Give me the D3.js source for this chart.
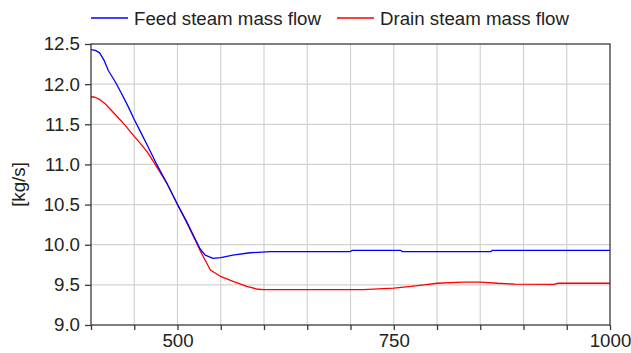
<!DOCTYPE html>
<html>
<head>
<meta charset="utf-8">
<script src="https://cdn.jsdelivr.net/npm/d3@7"></script>
<style>
  html, body { margin: 0; padding: 0; background: #fff; }
  svg { display: block; }
  text { font-family: "Liberation Sans", Arial, sans-serif; fill: #222; }
</style>
</head>
<body>
<svg id="chart" width="631" height="353"></svg>
<script>
// Time axis [s] and mass flow samples [kg/s]
const feedTime = [400, 405, 410, 415, 420, 428, 435, 443, 450, 458, 466, 476, 488, 500, 510, 520, 526, 532, 541, 550, 564, 584, 607, 700, 702, 758, 760, 862, 864, 1000];
const feedFlow = [12.43, 12.42, 12.39, 12.30, 12.17, 12.03, 11.89, 11.72, 11.56, 11.39, 11.22, 11.00, 10.76, 10.50, 10.30, 10.08, 9.95, 9.87, 9.83, 9.84, 9.87, 9.90, 9.913, 9.915, 9.93, 9.93, 9.913, 9.913, 9.93, 9.93];

const drainTime = [400, 404, 410, 416, 422, 430, 440, 450, 458, 466, 476, 488, 500, 510, 520, 526, 538, 549, 565, 580, 593, 600, 715, 750, 770, 785, 800, 830, 850, 870, 890, 935, 940, 1000];
const drainFlow = [11.84, 11.84, 11.81, 11.76, 11.69, 11.60, 11.48, 11.35, 11.25, 11.14, 10.97, 10.76, 10.50, 10.29, 10.07, 9.93, 9.685, 9.61, 9.54, 9.48, 9.445, 9.44, 9.44, 9.46, 9.48, 9.50, 9.52, 9.535, 9.535, 9.52, 9.51, 9.505, 9.52, 9.52];

const seriesNames = ["Feed steam mass flow", "Drain steam mass flow"];
const seriesColors = ["#0000ff", "#ff0000"];

const xTicks = [400, 450, 500, 550, 600, 650, 700, 750, 800, 850, 900, 950, 1000];
const xTickLabels = [500, 750, 1000];
const yTicks = [9.0, 9.5, 10.0, 10.5, 11.0, 11.5, 12.0, 12.5];
const yLabel = "[kg/s]";

const svg = d3.select("#chart");
const plot = { left: 91, right: 610, top: 44, bottom: 325 };

const x = d3.scaleLinear().domain([400, 1000]).range([plot.left, plot.right]);
const y = d3.scaleLinear().domain([9, 12.5]).range([plot.bottom, plot.top]);

// grid
const grid = svg.append("g").attr("stroke", "#d2d2d2").attr("stroke-width", 1.2);
grid.selectAll("line.gx").data(xTicks.slice(1, -1)).join("line")
  .attr("x1", d => x(d)).attr("x2", d => x(d)).attr("y1", plot.top).attr("y2", plot.bottom);
grid.selectAll("line.gy").data(yTicks.slice(1, -1)).join("line")
  .attr("x1", plot.left).attr("x2", plot.right).attr("y1", d => y(d)).attr("y2", d => y(d));

// series lines
const line = d3.line().x(d => x(d[0])).y(d => y(d[1]));
const series = [
  d3.zip(feedTime, feedFlow),
  d3.zip(drainTime, drainFlow)
];
// drain drawn first so the feed line sits on top where they overlap
[1, 0].forEach(i => {
  svg.append("path")
    .datum(series[i])
    .attr("fill", "none")
    .attr("stroke", seriesColors[i])
    .attr("stroke-width", 1.3)
    .attr("stroke-linejoin", "round")
    .attr("d", line);
});

// frame
svg.append("rect")
  .attr("x", plot.left).attr("y", plot.top)
  .attr("width", plot.right - plot.left).attr("height", plot.bottom - plot.top)
  .attr("fill", "none").attr("stroke", "#3a3a3a").attr("stroke-width", 1.3);

// y axis
const yAxis = d3.axisLeft(y).tickValues(yTicks).tickSize(6).tickPadding(5)
  .tickFormat(d3.format(".1f"));
const gy = svg.append("g").attr("transform", `translate(${plot.left},0)`).call(yAxis);
gy.select(".domain").remove();
gy.selectAll("line").attr("stroke", "#3a3a3a").attr("stroke-width", 1.3);
gy.selectAll("text").attr("font-size", 18.7).attr("fill", "#222")
  .attr("font-family", "Liberation Sans, Arial, sans-serif");

// x axis
const xAxis = d3.axisBottom(x).tickValues(xTicks).tickSize(5).tickPadding(4)
  .tickFormat(d => xTickLabels.includes(d) ? d : "");
const gx = svg.append("g").attr("transform", `translate(0,${plot.bottom})`).call(xAxis);
gx.select(".domain").remove();
gx.selectAll("line").attr("stroke", "#3a3a3a").attr("stroke-width", 1.3);
gx.selectAll("text").attr("font-size", 18.7).attr("fill", "#222")
  .attr("font-family", "Liberation Sans, Arial, sans-serif");

// y axis title
svg.append("text")
  .attr("transform", `translate(25,${(plot.top + plot.bottom) / 2}) rotate(-90)`)
  .attr("text-anchor", "middle")
  .attr("font-size", 18.7)
  .text(yLabel);

// legend
const legendX = [91, 337];
seriesNames.forEach((name, i) => {
  const g = svg.append("g").attr("transform", `translate(${legendX[i]},18)`);
  g.append("line").attr("x1", 0).attr("x2", 37).attr("y1", 0).attr("y2", 0)
    .attr("stroke", seriesColors[i]).attr("stroke-width", 1.3);
  g.append("text").attr("x", 43).attr("y", 7).attr("font-size", 18.7).text(name);
});
</script>
</body>
</html>
